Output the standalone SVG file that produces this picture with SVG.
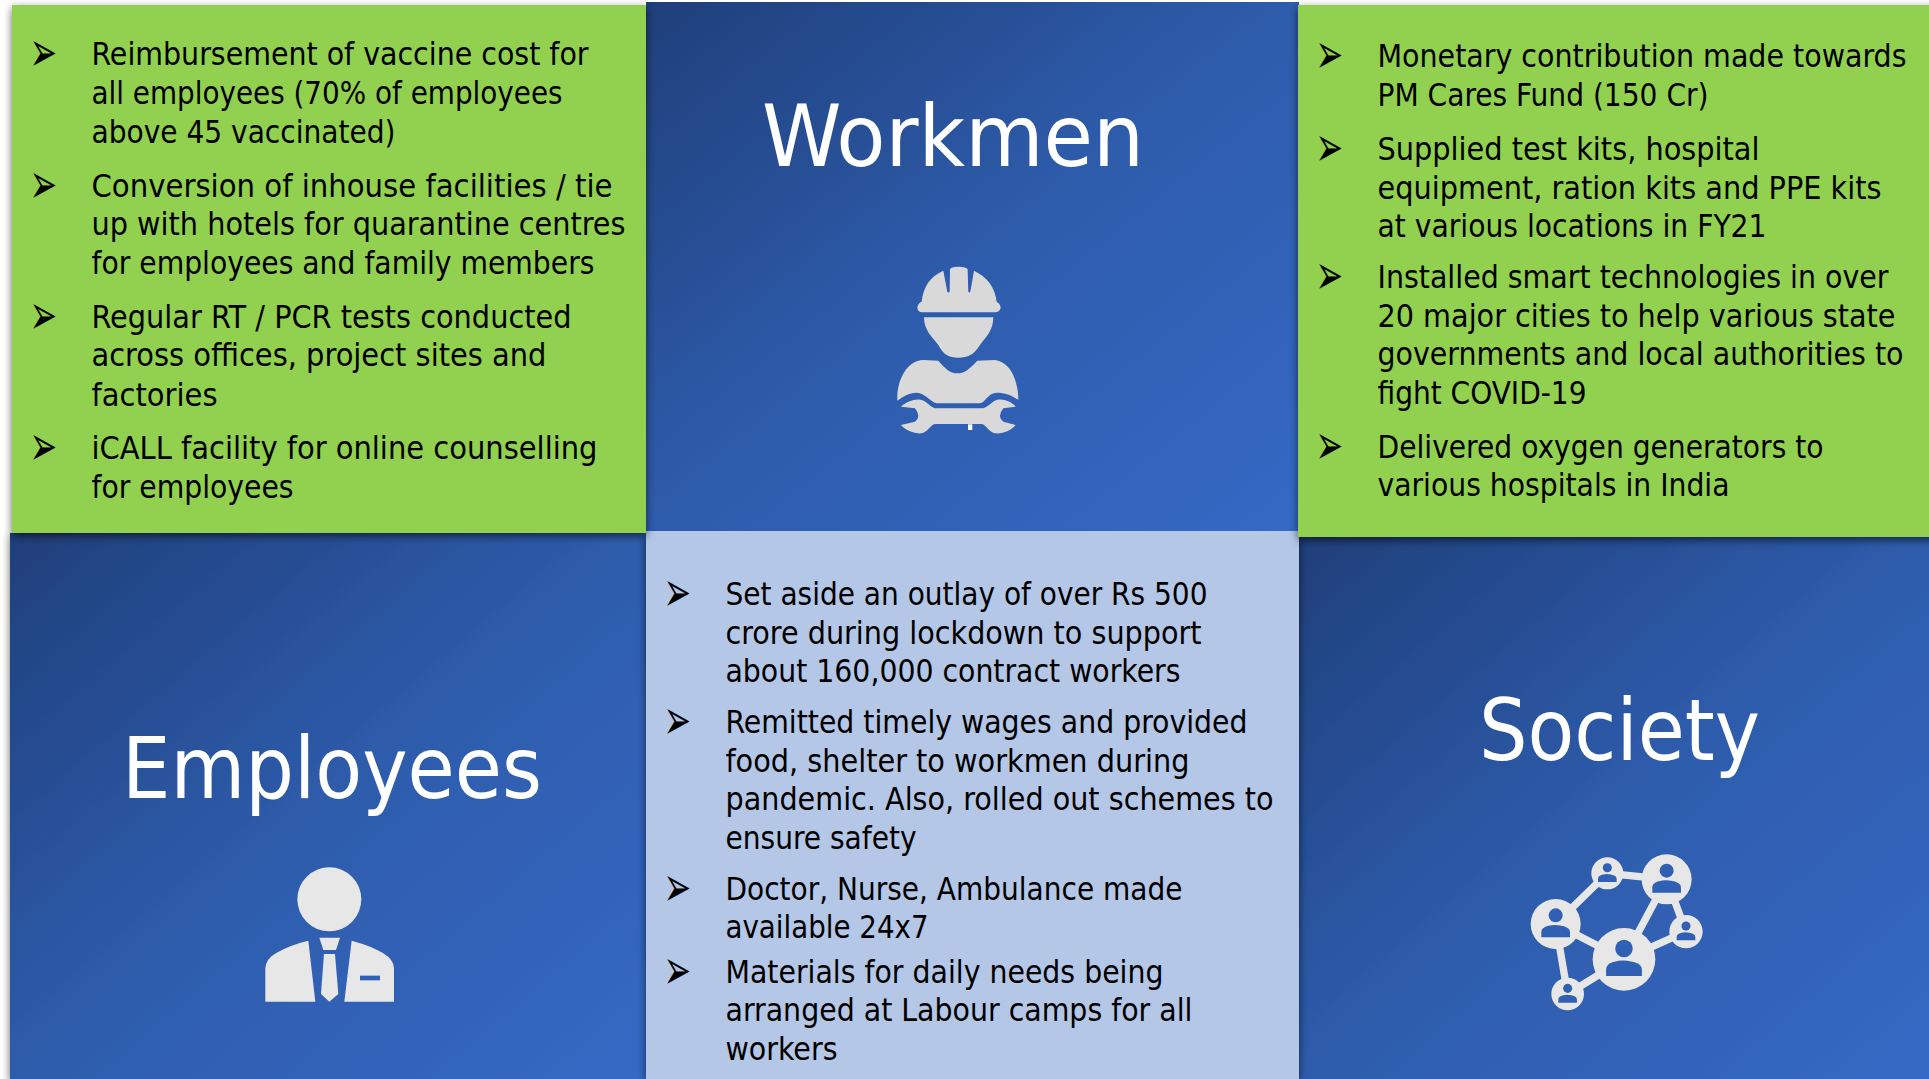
<svg xmlns="http://www.w3.org/2000/svg" xmlns:xlink="http://www.w3.org/1999/xlink" width="1929" height="1079" viewBox="0 0 1929 1079">
<style>
.t{font-family:"DejaVu Sans Condensed","DejaVu Sans",sans-serif;font-size:31.5px;fill:#000;transform:translateY(.7px)}
.b{font-family:"DejaVu Sans",sans-serif;font-size:33px;fill:#000}
.h{font-family:"DejaVu Sans Condensed","DejaVu Sans",sans-serif;font-size:85px;fill:#fff}
.green{fill:#92d050;filter:url(#sh)}
.blue{fill:url(#bg)}
.i1{fill:#d9d9d9}.i2{fill:#e7e7e7}.ib{fill:#2f60b3}
</style>
<defs>
<linearGradient id="bg" x1="0" y1="0" x2="1" y2="1"><stop offset="0" stop-color="#1f3f7a"/><stop offset=".5" stop-color="#2e5cac"/><stop offset="1" stop-color="#3569c5"/></linearGradient>
<filter id="sh" x="-5%" y="-5%" width="110%" height="110%"><feDropShadow dx="0" dy="3" stdDeviation="4" flood-color="#000" flood-opacity=".6"/></filter>
<g id="person"><circle cx="0" cy="-26" r="21" class="ib"/><path class="ib" d="M-43 40V25Q-43 5 -3 3Q43 5 43 25V40Z"/></g>
</defs>
<rect width="1929" height="1079" fill="#fff"/>
<g id="employees">
<rect class="blue" x="10" y="533" width="636" height="546" filter="url(#sh)"/>
<text class="h" x="122" y="798" textLength="420" lengthAdjust="spacingAndGlyphs">Employees</text>
<g transform="translate(240 840) scale(.3333)">
<circle class="i2" cx="268" cy="178" r="96"/>
<polygon class="i2" points="238,293 300,293 288,330 250,330"/>
<polygon class="i2" points="252,342 285,342 295,462 268,485 243,462"/>
<path class="i2" d="M76 485V385Q78 355 110 338Q150 315 205 302L226 485Z"/>
<path class="i2" d="M335 302Q395 318 430 340Q462 360 462 385V485H313Z"/>
<rect class="ib" x="360" y="407" width="60" height="14"/>
</g>
</g>
<g id="society">
<rect class="blue" x="1299" y="537" width="630" height="542" filter="url(#sh)"/>
<text class="h" x="1479" y="760" textLength="281" lengthAdjust="spacingAndGlyphs">Society</text>
<g transform="translate(1500 830) scale(.3333)">
<path d="M167 282L322 130L500 148L372 388L167 282L203 492L372 388L558 305L500 148" fill="none" stroke="#e7e7e7" stroke-width="22"/>
<circle class="i2" cx="167" cy="282" r="75"/><circle class="i2" cx="322" cy="130" r="48"/><circle class="i2" cx="500" cy="148" r="75"/><circle class="i2" cx="558" cy="305" r="50"/><circle class="i2" cx="372" cy="388" r="94"/><circle class="i2" cx="203" cy="492" r="49"/>
<use xlink:href="#person" href="#person" transform="translate(167 282)"/>
<use xlink:href="#person" href="#person" transform="translate(322 130) scale(.65)"/>
<use xlink:href="#person" href="#person" transform="translate(500 148)"/>
<use xlink:href="#person" href="#person" transform="translate(558 305) scale(.65)"/>
<use xlink:href="#person" href="#person" transform="translate(372 388) scale(1.25)"/>
<use xlink:href="#person" href="#person" transform="translate(203 492) scale(.65)"/>
</g>
</g>
<g id="workmen-actions">
<rect x="646" y="531" width="653" height="548" fill="#b4c7e7" filter="url(#sh)"/>
<text class="b" transform="translate(663.5 611) scale(1 1.7)">➢</text>
<text class="t" x="725.5" y="604.5" textLength="482" lengthAdjust="spacingAndGlyphs">Set aside an outlay of over Rs 500</text>
<text class="t" x="725.5" y="643" textLength="476" lengthAdjust="spacingAndGlyphs">crore during lockdown to support</text>
<text class="t" x="725.5" y="681.5" textLength="455" lengthAdjust="spacingAndGlyphs">about 160,000 contract workers</text>
<text class="b" transform="translate(663.5 739) scale(1 1.7)">➢</text>
<text class="t" x="725.5" y="732" textLength="522" lengthAdjust="spacingAndGlyphs">Remitted timely wages and provided</text>
<text class="t" x="725.5" y="771" textLength="464" lengthAdjust="spacingAndGlyphs">food, shelter to workmen during</text>
<text class="t" x="725.5" y="809.5" textLength="548" lengthAdjust="spacingAndGlyphs">pandemic. Also, rolled out schemes to</text>
<text class="t" x="725.5" y="848" textLength="191" lengthAdjust="spacingAndGlyphs">ensure safety</text>
<text class="b" transform="translate(663.5 906) scale(1 1.7)">➢</text>
<text class="t" x="725.5" y="899" textLength="457" lengthAdjust="spacingAndGlyphs">Doctor, Nurse, Ambulance made</text>
<text class="t" x="725.5" y="937.5" textLength="203" lengthAdjust="spacingAndGlyphs">available 24x7</text>
<text class="b" transform="translate(663.5 989) scale(1 1.7)">➢</text>
<text class="t" x="725.5" y="982" textLength="438" lengthAdjust="spacingAndGlyphs">Materials for daily needs being</text>
<text class="t" x="725.5" y="1020.5" textLength="467" lengthAdjust="spacingAndGlyphs">arranged at Labour camps for all</text>
<text class="t" x="725.5" y="1059" textLength="112" lengthAdjust="spacingAndGlyphs">workers</text>
</g>
<g id="workmen">
<rect class="blue" x="646" y="2" width="653" height="529"/>
<text class="h" x="762" y="166" textLength="382" lengthAdjust="spacingAndGlyphs">Workmen</text>
<g transform="translate(840 230) scale(.3333)">
<path class="i1" d="M232 232Q235 218 245 215C250 170 270 140 310 122L322 185Q326 190 329 185L330 118Q332 110 355 110Q380 110 383 118L385 185Q388 190 391 185L402 122C440 140 465 170 470 215Q482 222 482 235Q478 247 465 247H245Q232 245 232 232Z"/>
<path class="i1" d="M252 262H460C460 300 440 320 420 345C400 375 385 383 355 383C325 383 312 375 295 345C275 320 252 300 252 262Z"/>
<path class="i1" d="M172 512C170 450 200 392 250 390L295 392C315 415 330 430 352 430C375 430 390 415 412 392L465 390C510 395 535 450 535 510C515 495 495 488 470 488C445 488 435 518 420 520H290C270 515 255 488 230 488C205 488 190 500 172 512Z"/>
<path class="i1" d="M183 530C200 515 225 505 245 510C262 515 270 530 285 535H430C445 530 455 515 470 510C490 505 515 515 527 530L490 535Q470 560 490 575L527 585C515 600 490 612 465 610C445 605 440 585 425 582H285C270 585 265 605 245 610C225 612 195 600 183 585L225 575Q245 560 225 535Z"/>
<rect x="384" y="583" width="13" height="17" fill="#fff"/>
</g>
</g>
<g id="employees-actions">
<rect class="green" x="12" y="5" width="634" height="528"/>
<text class="b" transform="translate(29.5 71) scale(1 1.7)">➢</text>
<text class="t" x="91.5" y="64.5" textLength="497" lengthAdjust="spacingAndGlyphs">Reimbursement of vaccine cost for</text>
<text class="t" x="91.5" y="103.5" textLength="471" lengthAdjust="spacingAndGlyphs">all employees (70% of employees</text>
<text class="t" x="91.5" y="142" textLength="304" lengthAdjust="spacingAndGlyphs">above 45 vaccinated)</text>
<text class="b" transform="translate(29.5 203) scale(1 1.7)">➢</text>
<text class="t" x="91.5" y="196.5" textLength="521" lengthAdjust="spacingAndGlyphs">Conversion of inhouse facilities / tie</text>
<text class="t" x="91.5" y="234.5" textLength="534" lengthAdjust="spacingAndGlyphs">up with hotels for quarantine centres</text>
<text class="t" x="91.5" y="273" textLength="503" lengthAdjust="spacingAndGlyphs">for employees and family members</text>
<text class="b" transform="translate(29.5 334) scale(1 1.7)">➢</text>
<text class="t" x="91.5" y="327.5" textLength="480" lengthAdjust="spacingAndGlyphs">Regular RT / PCR tests conducted</text>
<text class="t" x="91.5" y="365.5" textLength="455" lengthAdjust="spacingAndGlyphs">across offices, project sites and</text>
<text class="t" x="91.5" y="405" textLength="126" lengthAdjust="spacingAndGlyphs">factories</text>
<text class="b" transform="translate(29.5 465) scale(1 1.7)">➢</text>
<text class="t" x="91.5" y="458.5" textLength="506" lengthAdjust="spacingAndGlyphs">iCALL facility for online counselling</text>
<text class="t" x="91.5" y="497" textLength="202" lengthAdjust="spacingAndGlyphs">for employees</text>
</g>
<g id="society-actions">
<rect class="green" x="1298" y="5" width="640" height="532"/>
<text class="b" transform="translate(1315.5 73) scale(1 1.7)">➢</text>
<text class="t" x="1377.5" y="66.5" textLength="529" lengthAdjust="spacingAndGlyphs">Monetary contribution made towards</text>
<text class="t" x="1377.5" y="105" textLength="331" lengthAdjust="spacingAndGlyphs">PM Cares Fund (150 Cr)</text>
<text class="b" transform="translate(1315.5 166) scale(1 1.7)">➢</text>
<text class="t" x="1377.5" y="159.5" textLength="382" lengthAdjust="spacingAndGlyphs">Supplied test kits, hospital</text>
<text class="t" x="1377.5" y="198" textLength="504" lengthAdjust="spacingAndGlyphs">equipment, ration kits and PPE kits</text>
<text class="t" x="1377.5" y="236.5" textLength="389" lengthAdjust="spacingAndGlyphs">at various locations in FY21</text>
<text class="b" transform="translate(1315.5 294) scale(1 1.7)">➢</text>
<text class="t" x="1377.5" y="287.5" textLength="511" lengthAdjust="spacingAndGlyphs">Installed smart technologies in over</text>
<text class="t" x="1377.5" y="326" textLength="518" lengthAdjust="spacingAndGlyphs">20 major cities to help various state</text>
<text class="t" x="1377.5" y="364.5" textLength="526" lengthAdjust="spacingAndGlyphs">governments and local authorities to</text>
<text class="t" x="1377.5" y="403" textLength="209" lengthAdjust="spacingAndGlyphs">fight COVID-19</text>
<text class="b" transform="translate(1315.5 464) scale(1 1.7)">➢</text>
<text class="t" x="1377.5" y="457.5" textLength="446" lengthAdjust="spacingAndGlyphs">Delivered oxygen generators to</text>
<text class="t" x="1377.5" y="495.5" textLength="352" lengthAdjust="spacingAndGlyphs">various hospitals in India</text>
</g>
</svg>
